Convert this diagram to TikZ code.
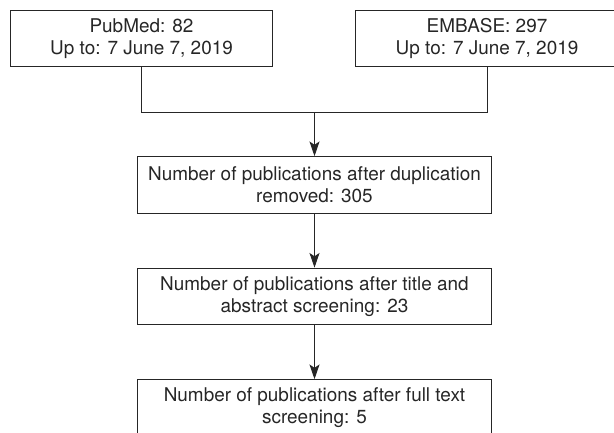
\documentclass[tikz,border=0pt]{standalone}
\usepackage{fontspec}
\setmainfont{TeX Gyre Heros}
\usepackage{tikz}
\usetikzlibrary{arrows.meta,positioning,calc}

\tikzset{
    srcbox/.style={draw=black!85, line width=0.75pt, minimum width=197pt, minimum height=42.5pt,
        inner sep=0pt, align=center, text=black!85, font=\fontsize{14.2}{16.5}\selectfont},
    stagebox/.style={srcbox, minimum width=266pt},
    flow/.style={draw=black!85, line width=0.75pt}
}

\begin{document}
\begin{tikzpicture}[x=0.75pt, y=-0.75pt, >={Stealth[length=11pt,width=7.5pt,inset=2.5pt]}]
        % Frame
        \useasboundingbox (0,0) rectangle (614,432);
        
        % Sources
        \node[srcbox] (pubmed) at (141.5,38.5) {PubMed: 82\\Up to: 7 June 7, 2019};
        \node[srcbox] (embase) at (487,38.5) {EMBASE: 297\\Up to: 7 June 7, 2019};
        
        % Screening stages
        \node[stagebox] (dedup) at (314.5,185) {Number of publications after duplication\\removed: 305};
        \node[stagebox] (screen) at (314.5,296.5) {Number of publications after title and\\abstract screening: 23};
        \node[stagebox] (fulltext) at (314.5,408) {Number of publications after full text\\screening: 5};
        
        % Merge of both sources
        \coordinate (join) at (dedup.north |- 0,112.5);
        \draw[flow] (pubmed.south) |- (join) -| (embase.south);
        \draw[flow,->] (join) -- (dedup.north);
        
        % Stage arrows
        \draw[flow,->] (dedup) -- (screen);
        \draw[flow,->] (screen) -- (fulltext);
        
    \end{tikzpicture}
\end{document}
